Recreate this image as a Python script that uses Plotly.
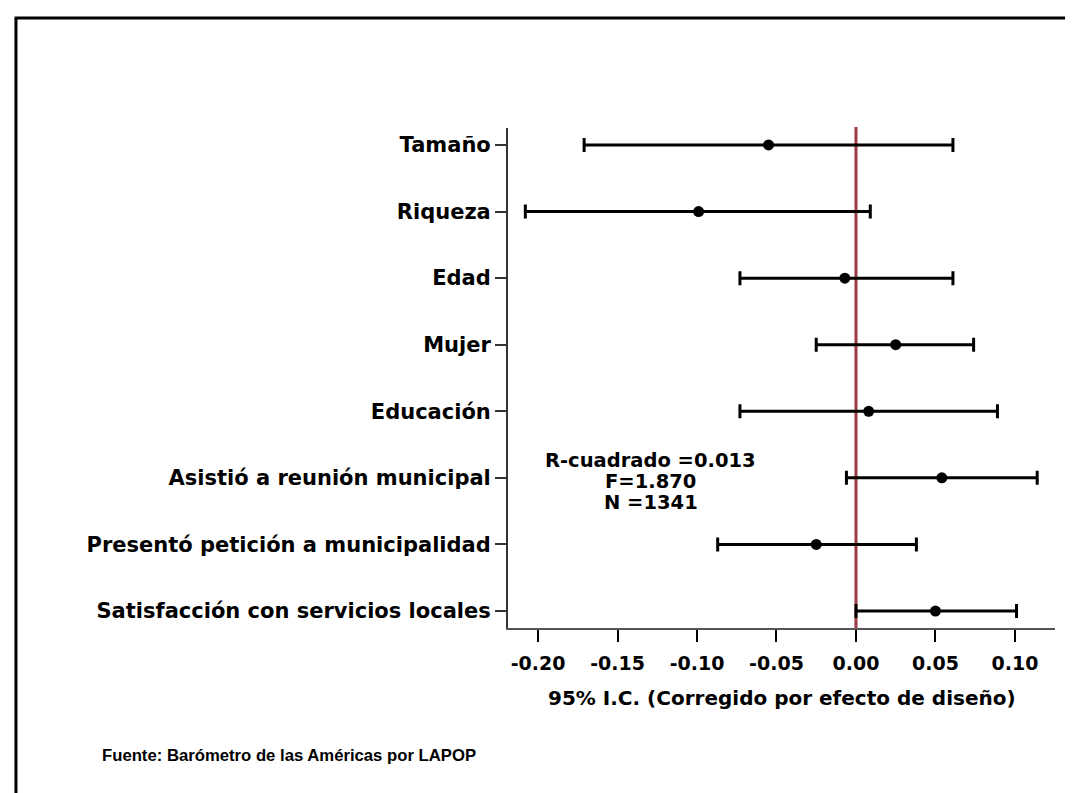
import plotly.graph_objects as go

categories = ["Satisfacción con servicios locales", "Presentó petición a municipalidad",
              "Asistió a reunión municipal", "Educación", "Mujer", "Edad", "Riqueza", "Tamaño"]
coef = [0.050, -0.025, 0.054, 0.008, 0.025, -0.007, -0.099, -0.055]
lower = [0.000, -0.087, -0.006, -0.073, -0.025, -0.073, -0.208, -0.171]
upper = [0.101, 0.038, 0.114, 0.089, 0.074, 0.061, 0.009, 0.061]
xticks = [-0.20, -0.15, -0.10, -0.05, 0.00, 0.05, 0.10]
stats_lines = ["R-cuadrado =0.013", "F=1.870", "N =1341"]
stats_y = [2.267, 1.952, 1.637]
source = "Fuente: Barómetro de las Américas por LAPOP"
xtitle = "95% I.C. (Corregido por efecto de diseño)"

FONT = "DejaVu Sans, Liberation Sans, Arial, sans-serif"
FONT2 = "Liberation Sans, Arial, sans-serif"

err_plus = [u - c for u, c in zip(upper, coef)]
err_minus = [c - l for c, l in zip(coef, lower)]

fig = go.Figure()
fig.add_trace(go.Scatter(
    x=coef, y=categories, mode="markers",
    marker=dict(color="black", size=11),
    error_x=dict(type="data", symmetric=False, array=err_plus, arrayminus=err_minus,
                 color="black", thickness=3, width=7),
    showlegend=False,
))

# reference line at zero
fig.add_shape(type="line", xref="x", yref="paper", x0=0, x1=0, y0=0, y1=1.002,
              line=dict(color="#9b3a45", width=3), layer="below")

for txt, yv in zip(stats_lines, stats_y):
    fig.add_annotation(x=-0.129, y=yv, xref="x", yref="y", text="<b>" + txt + "</b>",
                       showarrow=False, xanchor="center", yanchor="middle",
                       font=dict(family=FONT, size=19.5, color="black"))

fig.add_annotation(x=0.5, y=-0.14, xref="paper", yref="paper", text="<b>" + xtitle + "</b>",
                   showarrow=False, xanchor="center", yanchor="middle",
                   font=dict(family=FONT, size=20, color="black"))
fig.add_annotation(x=-0.746, y=-0.254, xref="paper", yref="paper", text="<b>" + source + "</b>",
                   showarrow=False, xanchor="left", yanchor="middle",
                   font=dict(family=FONT2, size=16.7, color="black"))

# frame (left and top)
fig.add_shape(type="line", xref="paper", yref="paper", x0=-0.8995, x1=-0.8995, y0=1.22, y1=-0.5,
              line=dict(color="black", width=3))
fig.add_shape(type="line", xref="paper", yref="paper", x0=-0.902, x1=1.2, y0=1.22, y1=1.22,
              line=dict(color="black", width=3))

fig.update_xaxes(range=[-0.2189, 0.1252], tickvals=xticks,
                 ticktext=["<b>%.2f</b>" % v for v in xticks],
                 showgrid=False, zeroline=False, showline=True, linecolor="#555", linewidth=2,
                 ticks="outside", ticklen=12, tickwidth=2, tickcolor="black",
                 ticklabelstandoff=5,
                 tickfont=dict(family=FONT, size=19, color="black"))
fig.update_yaxes(type="category", categoryorder="array", categoryarray=categories,
                 range=[-0.255, 7.255], tickvals=categories,
                 ticktext=["<b>" + c + "</b>" for c in categories],
                 showgrid=False, zeroline=False, showline=True, linecolor="#333", linewidth=2,
                 ticks="outside", ticklen=11, tickwidth=1.5, tickcolor="#333",
                 tickfont=dict(family=FONT, size=21, color="black"))

fig.update_layout(width=1073, height=793, margin=dict(l=500, r=26, t=120, b=173, autoexpand=False),
                  paper_bgcolor="white", plot_bgcolor="white")

fig.write_html("out.html")
